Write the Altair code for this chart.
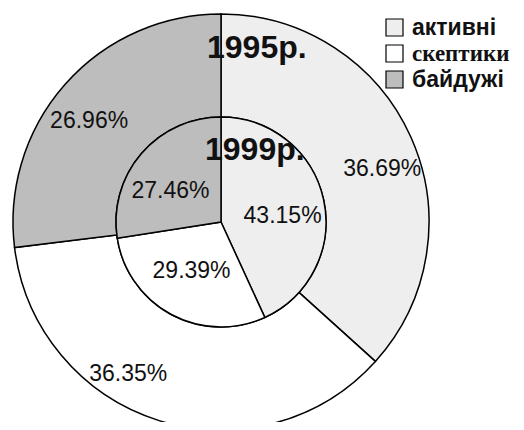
import altair as alt
import pandas as pd

categories = ["активні", "скептики", "байдужі"]
values_1995 = [36.69, 36.35, 26.96]
values_1999 = [43.15, 29.39, 27.46]
year_labels = ["1995р.", "1999р."]
colors = ["#eeeeee", "#ffffff", "#bdbdbd"]

rows = []
for i, c in enumerate(categories):
    rows.append({"ring": "1995", "cat": c, "order": i, "value": values_1995[i]})
    rows.append({"ring": "1999", "cat": c, "order": i, "value": values_1999[i]})
df = pd.DataFrame(rows)

CX, CY = 213, 214
R_OUT, R_IN = 208, 105
theta_scale = alt.Scale(domain=[0, 100])

color = alt.Color(
    "cat:N",
    scale=alt.Scale(domain=categories, range=colors),
    legend=alt.Legend(
        title=None, orient="none", legendX=375, legendY=8,
        symbolType="square", symbolSize=289, symbolStrokeColor="black",
        symbolStrokeWidth=1.2, symbolOpacity=1,
        labelFontSize=23,
        labelFont=alt.ExprRef("datum.label == 'скептики' ? 'Liberation Serif' : 'Liberation Sans'"),
        labelFontWeight="bold",
        labelColor="#111111", rowPadding=2, labelOffset=6,
    ),
)

base = alt.Chart(df)

outer = base.transform_filter("datum.ring == '1995'").mark_arc(
    outerRadius=R_OUT, innerRadius=R_IN, stroke="black", strokeWidth=1.5
).encode(
    theta=alt.Theta("value:Q", stack=True, scale=theta_scale),
    color=color,
    order=alt.Order("order:Q"),
    x=alt.value(CX), y=alt.value(CY),
)

inner = base.transform_filter("datum.ring == '1999'").mark_arc(
    outerRadius=R_IN, stroke="black", strokeWidth=1.5
).encode(
    theta=alt.Theta("value:Q", stack=True, scale=theta_scale),
    color=alt.Color("cat:N", scale=alt.Scale(domain=categories, range=colors), legend=None),
    order=alt.Order("order:Q"),
    x=alt.value(CX), y=alt.value(CY),
)


def label(ring, cat, radius, dx=0, dy=0):
    return (
        base.transform_filter(f"datum.ring == '{ring}'")
        .transform_window(cum="sum(value)", sort=[alt.SortField("order")], frame=[None, 0])
        .transform_calculate(mid="datum.cum - datum.value / 2",
                             txt="format(datum.value, '.2f') + '%'")
        .transform_filter(f"datum.cat == '{cat}'")
        .mark_text(radius=radius, dx=dx, dy=dy, font="Liberation Sans",
                   fontSize=23, color="#111111")
        .encode(
            theta=alt.Theta("mid:Q", stack=False, scale=theta_scale),
            text="txt:N",
            x=alt.value(CX), y=alt.value(CY),
        )
    )


labels = [
    label("1995", "активні", 172, 4, 17),
    label("1995", "скептики", 172, -41, -12),
    label("1995", "байдужі", 168, -6, 10),
    label("1999", "активні", 62, 1, 7),
    label("1999", "скептики", 58, -2, -2),
    label("1999", "байдужі", 60, -5, 8),
]

titles = [
    alt.Chart(pd.DataFrame({"t": [year_labels[0]]})).mark_text(
        font="Liberation Sans", fontWeight="bold", fontSize=32, align="left",
        baseline="middle", color="#111111"
    ).encode(text="t:N", x=alt.value(199), y=alt.value(40)),
    alt.Chart(pd.DataFrame({"t": [year_labels[1]]})).mark_text(
        font="Liberation Sans", fontWeight="bold", fontSize=32, align="left",
        baseline="middle", color="#111111"
    ).encode(text="t:N", x=alt.value(197), y=alt.value(142)),
]

chart = alt.layer(outer, inner, *labels, *titles).properties(
    width=508, height=414, autosize=alt.AutoSizeParams(type="none"), padding=0
).configure_view(stroke=None)

chart.save("out.html", embed_options={"renderer": "svg", "actions": False})
